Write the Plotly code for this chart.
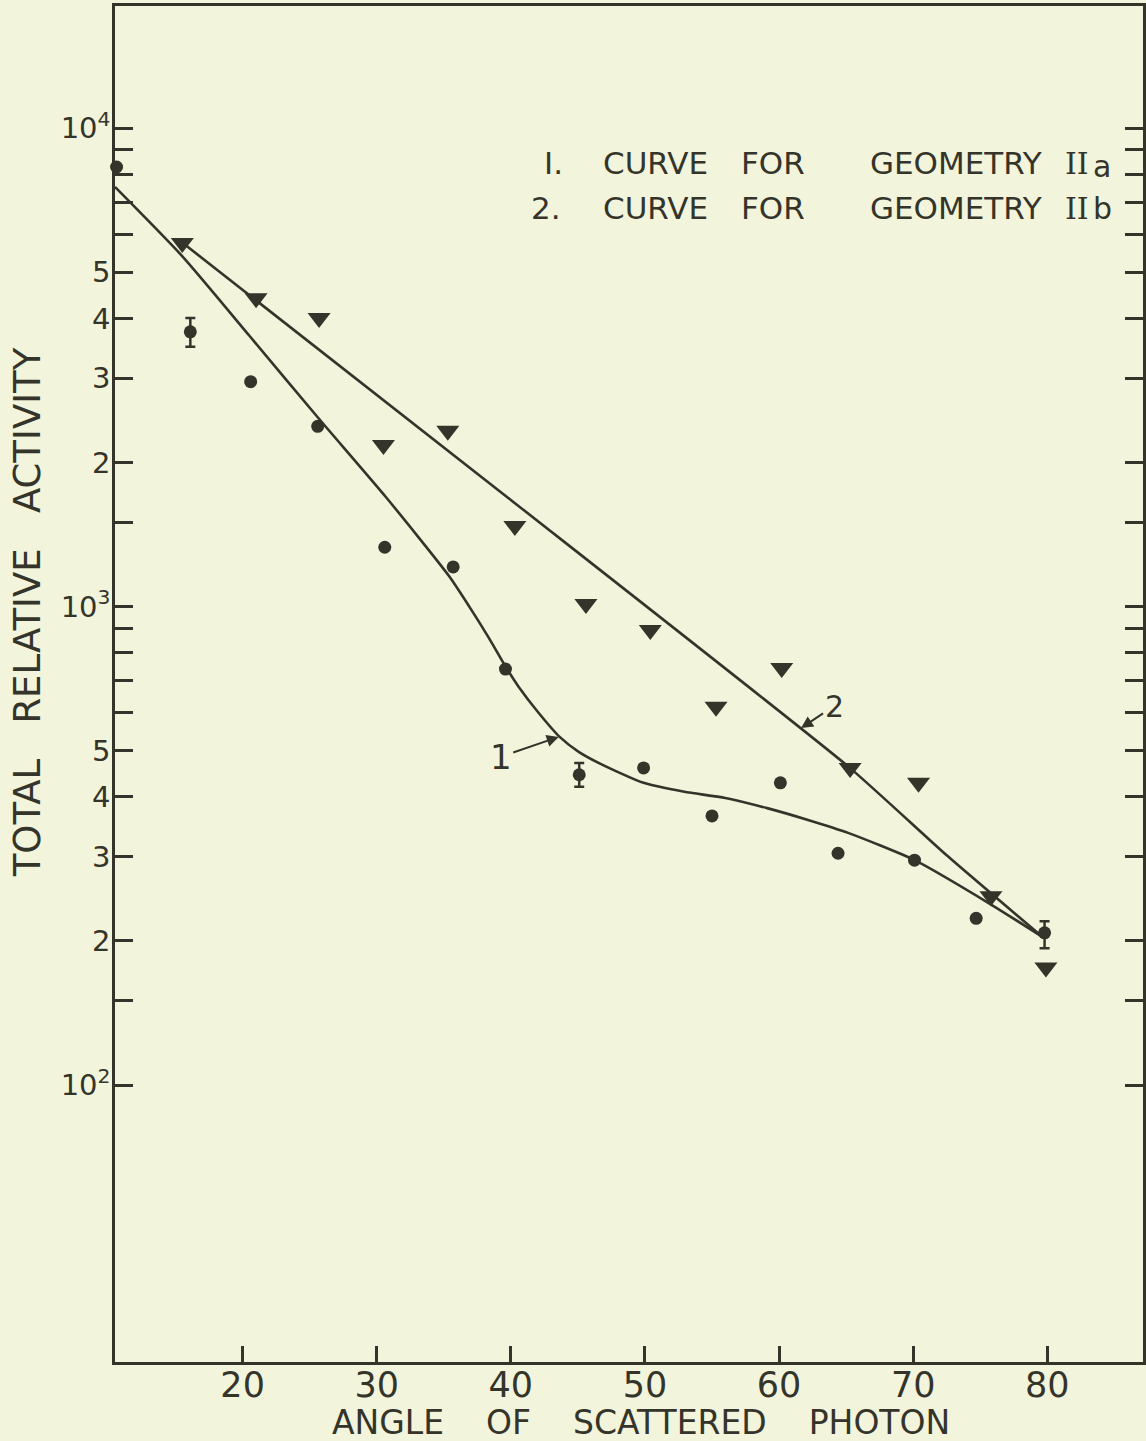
import math
import plotly.graph_objects as go

INK = "#34342a"
PAPER = "#f3f4dc"
FONT = "DejaVu Sans"

# ---- data ----
# Geometry IIa : circles
angle_a = [10.6, 16.1, 20.6, 25.6, 30.6, 35.7, 39.6, 45.1, 49.9, 55.0, 60.1, 64.4, 70.1, 74.7, 79.8]
activity_a = [8290, 3750, 2950, 2380, 1330, 1210, 740, 445, 460, 365, 428, 305, 295, 223, 208]
err_plus_a = [None, 260, None, None, None, None, None, 26, None, None, None, None, None, None, 12]
err_minus_a = [None, 260, None, None, None, None, None, 25, None, None, None, None, None, None, 15]

# Geometry IIb : inverted triangles
angle_b = [15.5, 21.0, 25.7, 30.5, 35.3, 40.3, 45.6, 50.4, 55.3, 60.2, 65.3, 70.4, 75.8, 79.9]
activity_b = [5750, 4410, 4010, 2175, 2330, 1473, 1012, 893, 617, 744, 460, 428, 248, 176]

# Drawn curves
curve1_angle = [10.48, 15.54, 20.52, 25.58, 30.71, 35.39, 36.88, 38.36, 39.63,
                40.59, 42.08, 43.64, 45.06, 46.69, 49.89, 52.94, 55.99, 59.11, 62.16,
                65.20, 70.11, 75.84, 79.63]
curve1_value = [7530, 5380, 3676, 2489, 1690, 1158, 1002, 860, 747,
                679, 599, 534, 497, 469, 428, 410, 398, 379, 358,
                336, 295, 238, 204]
curve2_angle = [15.54, 40.0, 65.28, 72.5, 79.63]
curve2_value = [5750, 1670, 460, 302, 204]

# axes ticks
x_ticks = [20, 30, 40, 50, 60, 70, 80]
y_ticks = [100, 200, 300, 400, 500, 1000, 2000, 3000, 4000, 5000, 10000]
y_ticklabels = ["10<sup>2</sup>", "2", "3", "4", "5", "10<sup>3</sup>", "2", "3", "4", "5",
                "10<sup>4</sup>"]
y_minor_ticks = [150, 600, 700, 800, 900, 1500, 6000, 7000, 8000, 9000]

# ---- layout geometry (pixels) ----
W, H = 1146, 1441
L, R, T, B = 115, 0, 6, 79
PW, PH = W - L - R, H - T - B


def px(x):
    return (x - L) / PW


def py(y):
    return (H - B - y) / PH


fig = go.Figure()

fig.add_trace(go.Scatter(x=curve1_angle, y=curve1_value, mode="lines",
                         line=dict(color=INK, width=2.6, shape="spline", smoothing=0.6),
                         hoverinfo="skip", showlegend=False))
fig.add_trace(go.Scatter(x=curve2_angle, y=curve2_value, mode="lines",
                         line=dict(color=INK, width=2.6, shape="spline", smoothing=0.5),
                         hoverinfo="skip", showlegend=False))

fig.add_trace(go.Scatter(x=angle_a, y=activity_a, mode="markers", cliponaxis=False,
                         marker=dict(symbol="circle", size=13, color=INK),
                         error_y=dict(type="data", symmetric=False, array=err_plus_a,
                                      arrayminus=err_minus_a, color=INK, thickness=2.5, width=5),
                         name="Geometry IIa", showlegend=False))
fig.add_trace(go.Scatter(x=angle_b, y=activity_b, mode="markers", cliponaxis=False,
                         marker=dict(symbol="triangle-down", size=20, color=INK),
                         name="Geometry IIb", showlegend=False))

annotations = []
# legend text, word by word
words1 = [("I.", 555), ("CURVE", 657), ("FOR", 775), ("GEOMETRY", 958)]
words2 = [("2.", 547), ("CURVE", 657), ("FOR", 775), ("GEOMETRY", 958)]
for words, yy in ((words1, 163), (words2, 208)):
    for w, xx in words:
        annotations.append(dict(text=w, x=px(xx), y=py(yy), xref="paper", yref="paper",
                                xanchor="center", yanchor="middle", showarrow=False,
                                font=dict(family=FONT, size=31, color=INK)))
for yy, letter, dy in ((163, "a", 3), (208, "b", 0)):
    annotations.append(dict(text="II", x=px(1080), y=py(yy), xref="paper", yref="paper",
                            xanchor="center", yanchor="middle", showarrow=False,
                            font=dict(family="DejaVu Serif", size=30, color=INK)))
    annotations.append(dict(text=letter, x=px(1105), y=py(yy + dy), xref="paper", yref="paper",
                            xanchor="center", yanchor="middle", showarrow=False,
                            font=dict(family=FONT, size=30, color=INK)))

# curve labels with arrows (positions in data space, log10 for y)
annotations.append(dict(text="1", x=43.57, y=math.log10(534), xref="x", yref="y",
                        ax=-58, ay=20, showarrow=True, arrowhead=2, arrowsize=1.2,
                        arrowwidth=2, arrowcolor=INK,
                        font=dict(family=FONT, size=34, color=INK)))
annotations.append(dict(text="2", x=61.64, y=math.log10(557), xref="x", yref="y",
                        ax=33, ay=-22, showarrow=True, arrowhead=2, arrowsize=1.2,
                        arrowwidth=2, arrowcolor=INK,
                        font=dict(family=FONT, size=30, color=INK)))

# axis titles
nb4 = "\u00a0" * 4
annotations.append(dict(text="ANGLE" + nb4 + "OF" + nb4 + "SCATTERED" + nb4 + "PHOTON",
                        x=px(643), y=py(1422), xref="paper", yref="paper",
                        xanchor="center", yanchor="middle", showarrow=False,
                        font=dict(family=FONT, size=33, color=INK)))
nb3 = "\u00a0" * 3
annotations.append(dict(text="TOTAL" + nb3 + "RELATIVE" + nb3 + "ACTIVITY", textangle=-90,
                        x=px(27), y=py(612), xref="paper", yref="paper",
                        xanchor="center", yanchor="middle", showarrow=False,
                        font=dict(family=FONT, size=37, color=INK)))

fig.update_layout(
    width=W, height=H,
    margin=dict(l=L, r=R, t=T, b=B, pad=0),
    paper_bgcolor=PAPER, plot_bgcolor=PAPER,
    annotations=annotations,
    showlegend=False,
    xaxis=dict(range=[10.483, 87.14], tickmode="array", tickvals=x_ticks,
               ticktext=[str(v) for v in x_ticks], ticklabelstandoff=-10,
               ticks="inside", ticklen=16, tickwidth=2.5, tickcolor=INK,
               showline=True, linewidth=2.5, linecolor=INK, mirror=True,
               showgrid=False, zeroline=False,
               tickfont=dict(family=FONT, size=35, color=INK)),
    yaxis=dict(type="log", range=[1.4211, 4.255], tickmode="array", tickvals=y_ticks,
               ticktext=y_ticklabels, ticklabelstandoff=-4,
               ticks="inside", ticklen=18, tickwidth=2.5, tickcolor=INK,
               minor=dict(tickmode="array", tickvals=y_minor_ticks, ticks="inside",
                          ticklen=18, tickwidth=2.5, tickcolor=INK, showgrid=False),
               showline=True, linewidth=2.5, linecolor=INK, mirror="ticks",
               showgrid=False, zeroline=False,
               tickfont=dict(family=FONT, size=29, color=INK)),
)

fig.write_html("out.html", config={"displayModeBar": False}, post_script=(
    "document.body.style.margin='0';document.body.style.padding='0';"
    "document.body.style.overflow='hidden';document.body.style.background='" + PAPER + "';"))
